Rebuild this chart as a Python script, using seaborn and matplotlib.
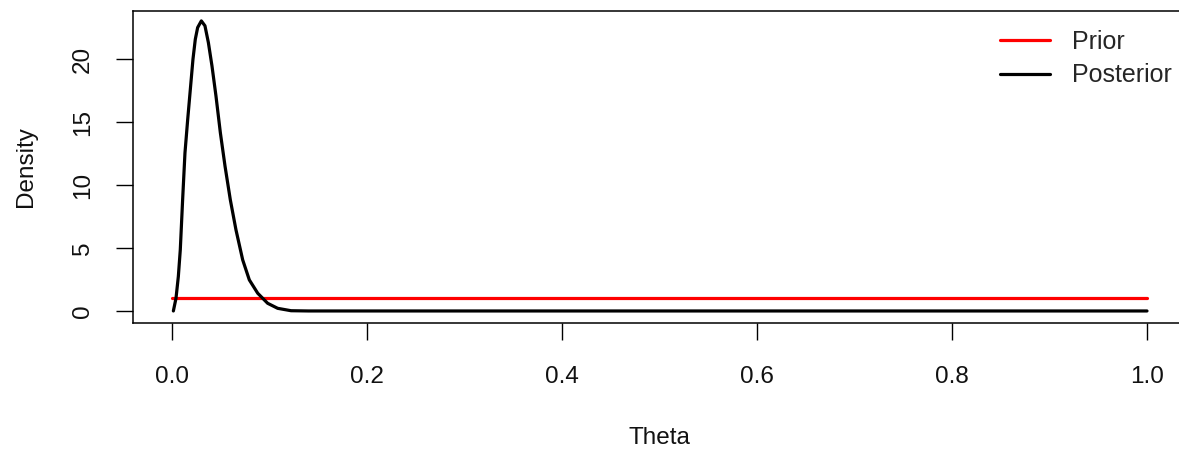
import numpy as np
import pandas as pd
import matplotlib
matplotlib.use("Agg")
import matplotlib.pyplot as plt
import seaborn as sns

# --- data ------------------------------------------------------------------
prior_theta = [0.0, 1.0]
prior_density = [1.0, 1.0]

post_theta = [0.0014, 0.0041, 0.0065, 0.0085, 0.0109, 0.0133, 0.0161, 0.0188,
              0.0215, 0.0239, 0.0263, 0.0301, 0.0338, 0.0373, 0.0410, 0.0451,
              0.0496, 0.0544, 0.0598, 0.0656, 0.0725, 0.0793, 0.0879, 0.0981,
              0.1084, 0.1221, 0.14, 1.0]
post_density = [0.0, 1.01, 2.74, 4.86, 8.84, 12.56, 15.22, 17.61,
                20.0, 21.59, 22.52, 23.05, 22.66, 21.33, 19.47, 17.08,
                14.16, 11.50, 8.84, 6.45, 4.06, 2.47, 1.41, 0.61,
                0.21, 0.02, 0.0, 0.0]

x_ticks = [0.0, 0.2, 0.4, 0.6, 0.8, 1.0]
y_ticks = [0, 5, 10, 15, 20]
series_names = ["Prior", "Posterior"]
series_colors = {"Prior": "#ff0000", "Posterior": "#000000"}

df = pd.concat([
    pd.DataFrame({"theta": prior_theta, "density": prior_density, "series": "Prior"}),
    pd.DataFrame({"theta": post_theta, "density": post_density, "series": "Posterior"}),
], ignore_index=True)

# --- plot ------------------------------------------------------------------
sns.set_style("ticks")
plt.rcParams["font.family"] = ["Liberation Sans", "DejaVu Sans"]

FS = 17.5
W, H = 1179, 449
fig = plt.figure(figsize=(W / 100, H / 100), dpi=100)
ax = fig.add_axes([133 / W, 1 - 323.3 / H, (1186 - 133) / W, (323.3 - 10.7) / H])

sns.lineplot(data=df, x="theta", y="density", hue="series", hue_order=series_names,
             palette=series_colors, estimator=None, sort=True, linewidth=2.3,
             legend=False, ax=ax)

ax.set_xlim(-0.04, 1.04)
ax.set_ylim(-0.98, 23.86)
ax.set_xticks(x_ticks)
ax.set_xticklabels([f"{t:.1f}" for t in x_ticks])
ax.set_yticks(y_ticks)
ax.set_yticklabels([str(t) for t in y_ticks], rotation=90, va="center")

for s in ax.spines.values():
    s.set_visible(True)
    s.set_color("black")
    s.set_linewidth(1.1)

ax.tick_params(axis="both", direction="out", length=12, width=1.0, color="black",
               labelsize=FS, labelcolor="#111111", bottom=True, left=True)
ax.tick_params(axis="x", pad=19)
ax.tick_params(axis="y", pad=16)

ax.set_xlabel("Theta", fontsize=FS, color="#111111", labelpad=28)
ax.set_ylabel("Density", fontsize=FS, color="#111111", labelpad=25)

ax.legend(ax.lines[:2], series_names, loc="upper left", frameon=False,
          fontsize=FS + 0.5, handlelength=2.0, handletextpad=0.9, labelspacing=0.38,
          bbox_to_anchor=(1000 / W, 1 - 30 / H), bbox_transform=fig.transFigure,
          borderaxespad=0, borderpad=0)

fig.savefig("out.png", dpi=100)
